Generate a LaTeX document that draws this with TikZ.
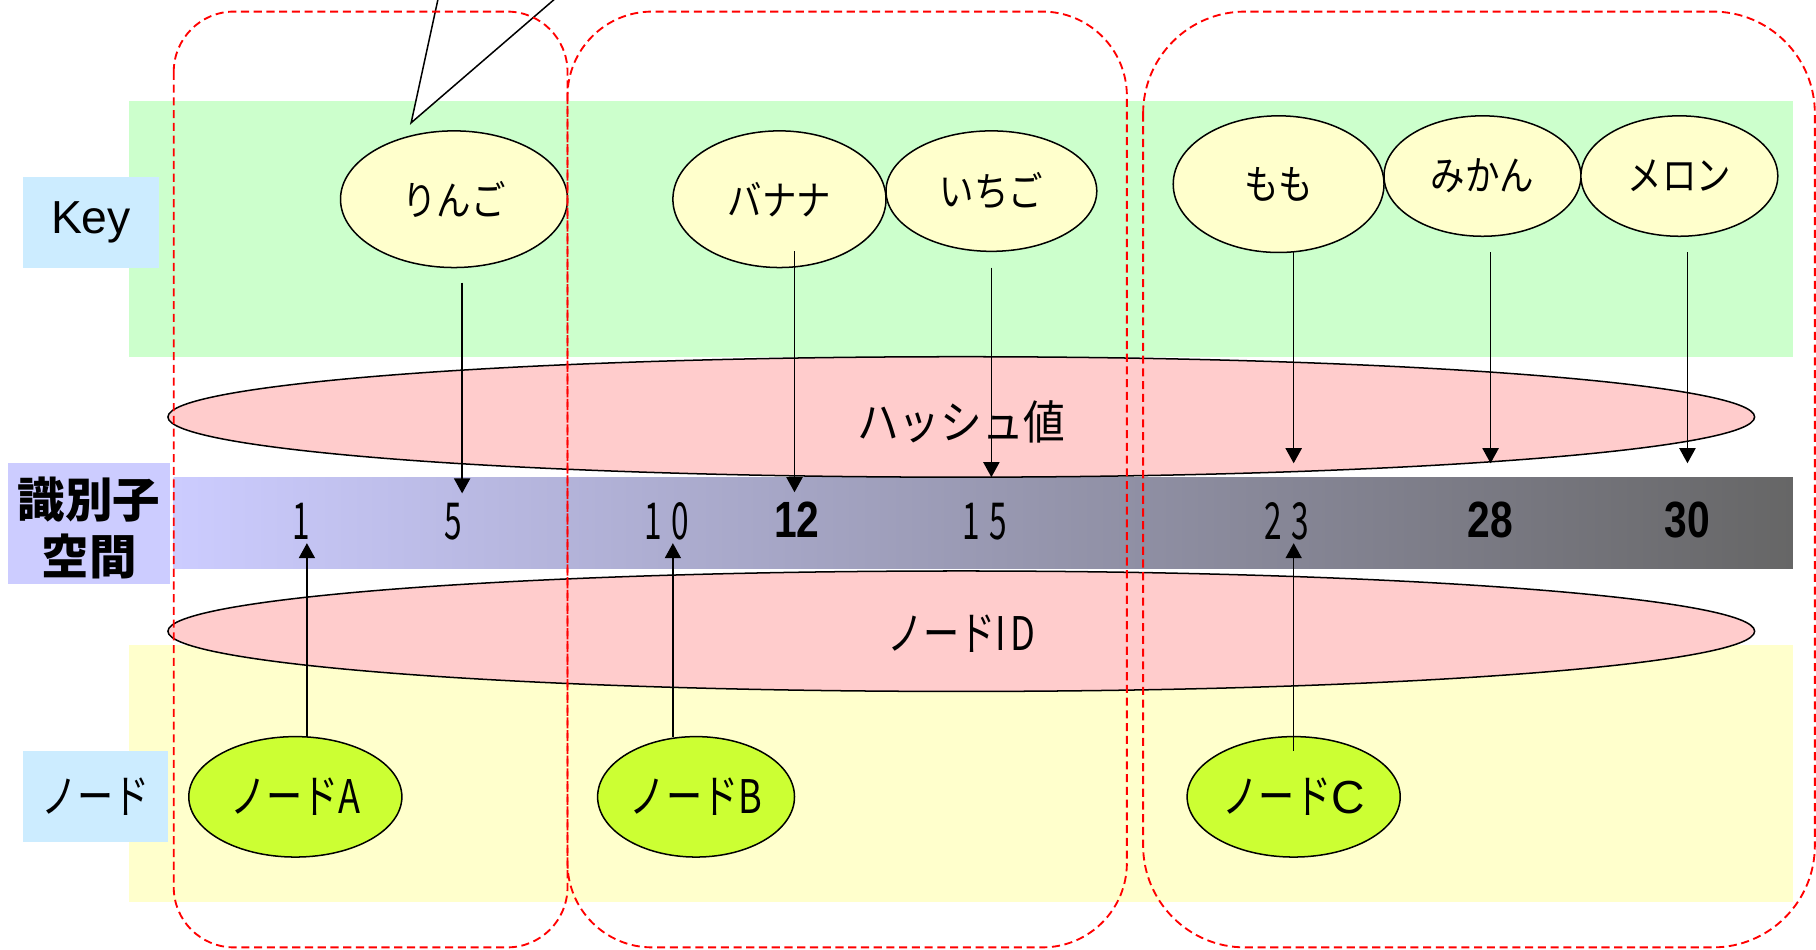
\documentclass[tikz,border=0pt]{standalone}
\usepackage{fontspec}
\setmainfont{Liberation Sans}
\newfontfamily\jp{Noto Sans CJK JP}
\newfontfamily\jpc[FakeStretch=0.78]{Noto Sans CJK JP}
\newfontfamily\jph[FakeStretch=0.9]{Noto Sans CJK JP}
\newfontfamily\jpk[FakeStretch=0.85]{Noto Sans CJK JP}
\newfontfamily\jpn[FakeStretch=0.62]{Noto Sans CJK JP}
\newfontfamily\arialn[FakeStretch=0.8]{Liberation Sans}
\usetikzlibrary{shapes.geometric,arrows.meta}

\definecolor{bandgreen}{HTML}{CCFFCC}
\definecolor{bandyellow}{HTML}{FFFFCC}
\definecolor{labelblue}{HTML}{CCECFF}
\definecolor{lavender}{HTML}{CCCCFF}
\definecolor{barend}{HTML}{666666}
\definecolor{hashpink}{HTML}{FFCCCC}
\definecolor{nodelime}{HTML}{CCFF33}

\tikzset{
  labelbox/.style={fill=labelblue, inner sep=0, anchor=center},
  keyell/.style={ellipse, draw, line width=0.65pt, fill=bandyellow, inner sep=0,
    font=\jpk\fontsize{17.5}{20}\selectfont},
  peerell/.style={ellipse, draw, line width=0.65pt, fill=nodelime, inner sep=0,
    minimum height=52pt, font=\jpc\fontsize{20}{24}\selectfont},
  hashell/.style={ellipse, draw, line width=0.65pt, fill=hashpink, inner sep=0,
    minimum width=685pt, minimum height=52pt},
  thinnum/.style={inner sep=0, font=\jpn\fontsize{22}{26}\selectfont},
  widenum/.style={inner sep=0, font=\arialn\bfseries\fontsize{22}{26}\selectfont},
  arr/.style={-{Triangle[length=6.5pt,width=7pt]}, line width=0.6pt},
  zone/.style={draw=red, line width=0.8pt, dash pattern=on 3.5pt off 2pt},
}

\begin{document}
\begin{tikzpicture}[x=0.5pt, y=-0.5pt]
\clip (0,0) rectangle (1568,820);
\fill[white] (0,0) rectangle (1568,820);

% background bands
\fill[bandgreen]  (111,87)  rectangle (1548,308);
\fill[bandyellow] (111,557) rectangle (1548,779);

% identifier space bar, light on the left and dark on the right
\shade[left color=lavender, right color=barend] (150,412) rectangle (1548,491);

% row labels
\node[labelbox, minimum width=58.5pt, minimum height=39pt,
      font=\fontsize{20}{24}\selectfont] (keylbl) at (78.5,192) {Key};
\node[labelbox, minimum width=62.5pt, minimum height=39.5pt,
      font=\jpc\fontsize{20}{24}\selectfont] (nodelbl) at (82.5,687.5) {ノード};
\node[labelbox, fill=lavender, minimum width=70pt, minimum height=52.5pt] (idlbl) at (77,452) {};
\node[align=center, inner sep=0, font=\jp\bfseries\fontsize{20.5}{24.5}\selectfont]
      (idtxt) at (77,456) {識別子\\空間};

% hash value and node ID ellipses
\node[hashell] (hash) at (830,360) {};
\node[font=\jph\fontsize{20}{24}\selectfont] (hashtxt) at (830,364) {ハッシュ値};
\node[hashell] (nid) at (830,545) {};
\node[font=\jpc\fontsize{20}{24}\selectfont] (nidtxt) at (830,547) {ノードI\kern2pt D};

% keys
\node[keyell, minimum width=98pt, minimum height=59pt] (ringo)  at (392,172)  {りんご};
\node[keyell, minimum width=92pt, minimum height=59pt] (banana) at (673,172)  {バナナ};
\node[keyell, minimum width=91pt, minimum height=52pt] (ichigo) at (856,165)  {いちご};
\node[keyell, minimum width=91pt, minimum height=59pt] (momo)   at (1104,159) {もも};
\node[keyell, minimum width=85pt, minimum height=52pt] (mikan)  at (1280,152) {みかん};
\node[keyell, minimum width=85pt, minimum height=52pt] (melon)  at (1450,152) {メロン};

% nodes
\node[peerell, minimum width=92pt] (nodeA) at (255,688)  {ノードA};
\node[peerell, minimum width=85pt] (nodeB) at (601,688)  {ノードB};
\node[peerell, minimum width=92pt] (nodeC) at (1117,688) {ノード{\rmfamily\fontsize{20}{24}\selectfont C}};

% identifiers on the bar
\node[thinnum] (n1)  at (260,450)  {1};
\node[thinnum] (n5)  at (391,450)  {5};
\node[thinnum] (n10) at (576,450)  {1\kern4pt 0};
\node[widenum] (n12) at (688,449)  {12};
\node[thinnum] (n15) at (850,450)  {1\kern4pt 5};
\node[thinnum] (n23) at (1111,450) {2\kern4pt 3};
\node[widenum] (n28) at (1287,449) {28};
\node[widenum] (n30) at (1457,449) {30};

% arrow end points
\coordinate (ringoS)  at (399,244);  \coordinate (ringoT)  at (399,426);
\coordinate (bananaS) at (686,217);  \coordinate (bananaT) at (686,425);
\coordinate (ichigoS) at (856,231);  \coordinate (ichigoT) at (856,412);
\coordinate (momoS)   at (1117,218); \coordinate (momoT)   at (1117,400);
\coordinate (mikanS)  at (1287,218); \coordinate (mikanT)  at (1287,400);
\coordinate (melonS)  at (1457,218); \coordinate (melonT)  at (1457,400);
\coordinate (aS) at (265,636);  \coordinate (aT) at (265,469);
\coordinate (bS) at (581,636);  \coordinate (bT) at (581,469);
\coordinate (cS) at (1117,648); \coordinate (cT) at (1117,469);

% keys hashed onto the identifier space
\draw[arr] (ringoS)  -- (ringoT);
\draw[arr] (bananaS) -- (bananaT);
\draw[arr] (ichigoS) -- (ichigoT);
\draw[arr] (momoS)   -- (momoT);
\draw[arr] (mikanS)  -- (mikanT);
\draw[arr] (melonS)  -- (melonT);

% nodes placed on the identifier space
\draw[arr] (aS) -- (aT);
\draw[arr] (bS) -- (bT);
\draw[arr] (cS) -- (cT);

% speech balloon pointer
\coordinate (tip) at (355,106);
\coordinate (balL) at (380.2,-10);
\coordinate (balR) at (489.6,-10);
\fill[white] (balL) -- (tip) -- (balR) -- cycle;
\draw[line width=0.65pt] (balL) -- (tip) -- (balR);

% responsibility ranges
\draw[zone, rounded corners=26pt] (150,10) rectangle (490,818);
\draw[zone, rounded corners=36.5pt] (490,10) rectangle (973,818);
\draw[zone, rounded corners=44pt] (987,10) rectangle (1567,818);
\end{tikzpicture}
\end{document}
